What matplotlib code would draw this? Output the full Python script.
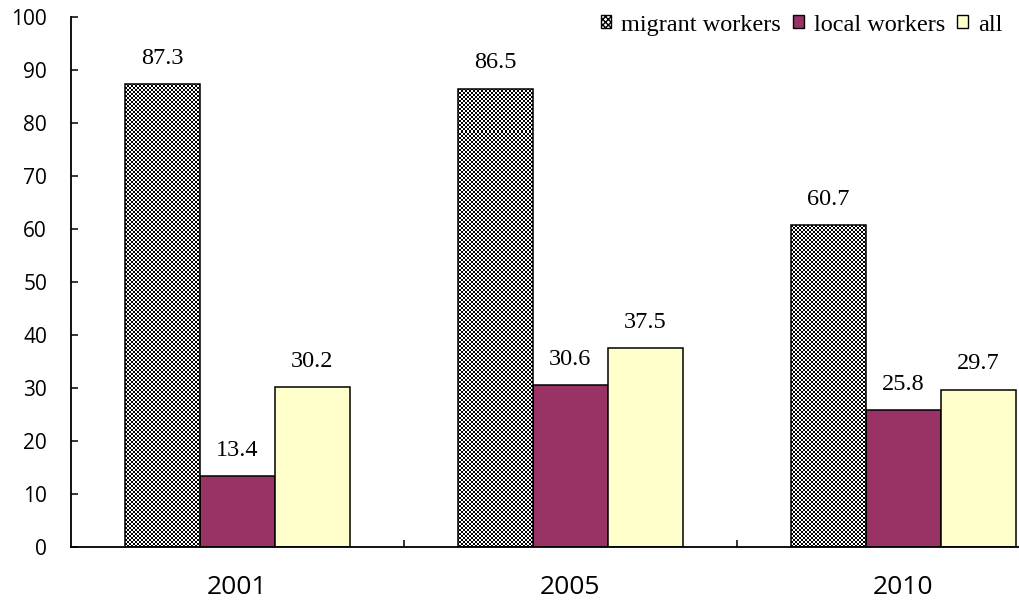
import numpy as np
import matplotlib.pyplot as plt
from matplotlib.patches import Patch

years = ['2001', '2005', '2010']
series = ['migrant workers', 'local workers', 'all']
migrant = [87.3, 86.5, 60.7]
local = [13.4, 30.6, 25.8]
all_workers = [30.2, 37.5, 29.7]

fig = plt.figure(figsize=(10.19, 6.06), dpi=100)
# axis runs past the right edge of the picture, as in the original
ax = fig.add_axes([70.7 / 1019, 1 - 547 / 606, 999 / 1019, 530 / 606])
ax.set_xlim(-0.5, 2.5)
ax.set_ylim(0, 100)

x = np.arange(len(years))
w = 0.225
b1 = ax.bar(x - w, migrant, w, facecolor='white', edgecolor='black', linewidth=1.1, zorder=2)
b2 = ax.bar(x, local, w, facecolor='#993366', edgecolor='black', linewidth=1.1, zorder=2)
b3 = ax.bar(x + w, all_workers, w, facecolor='#FFFFCC', edgecolor='black', linewidth=1.1, zorder=2)

# checkerboard fill for the migrant bars
yy, xx = np.mgrid[0:530, 0:999]
checker = ((yy // 2 + xx // 2) % 2).astype(float)
for bar in b1:
    im = ax.imshow(checker, cmap='gray', vmin=0, vmax=1, extent=(-0.5, 2.5, 0, 100),
                   aspect='auto', interpolation='none', zorder=2.5)
    im.set_clip_path(bar)
    bar.set_zorder(3)
    bar.set_facecolor('none')

for bars, vals in [(b1, migrant), (b2, local), (b3, all_workers)]:
    for bar, v in zip(bars, vals):
        ax.annotate(f'{v:.1f}', (bar.get_x() + bar.get_width() / 2, v),
                    xytext=(0, 11), textcoords='offset points', ha='center', va='bottom',
                    fontsize=17.5, family='Liberation Serif')

for s in ['top', 'right']:
    ax.spines[s].set_visible(False)
for s in ['left', 'bottom']:
    ax.spines[s].set_linewidth(1.3)

ax.set_yticks(range(0, 101, 10))
ax.set_yticklabels([str(v) for v in range(0, 101, 10)], fontsize=15, family='Open Sans')
ax.tick_params(axis='y', direction='in', length=5, width=1.1, pad=17)
ax.set_xticks(x)
ax.set_xticklabels(years, fontsize=19, family='Open Sans')
ax.tick_params(axis='x', which='major', length=0, pad=20)
ax.set_xticks([0.5, 1.5], minor=True)
ax.tick_params(axis='x', which='minor', direction='in', length=5, width=1.1)

handles = [Patch(facecolor='white', edgecolor='black', hatch='xxxxxx'),
           Patch(facecolor='#993366', edgecolor='black'),
           Patch(facecolor='#FFFFCC', edgecolor='black')]
fig.legend(handles, series, loc='upper right', bbox_to_anchor=(1.005, 1.012), ncol=3,
           frameon=False, prop={'family': 'Liberation Serif', 'size': 17.5},
           handlelength=0.45, handleheight=0.45, handletextpad=0.4, columnspacing=0.5)

plt.savefig('out.png', dpi=100)
